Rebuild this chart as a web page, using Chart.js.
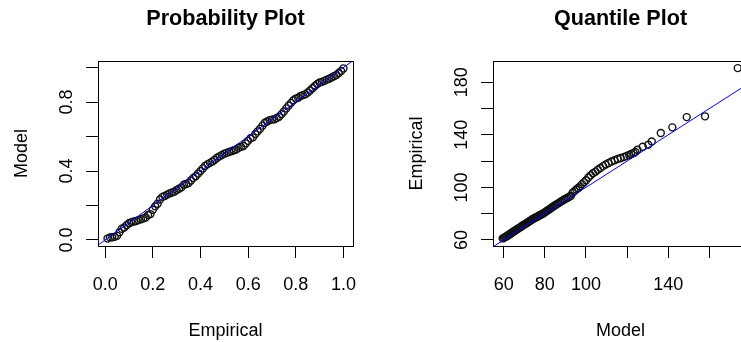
<!DOCTYPE html>
<html><head><meta charset="utf-8">
<script src="https://cdn.jsdelivr.net/npm/chart.js@4.4.1/dist/chart.umd.min.js"></script>
<style>
html,body{margin:0;padding:0;background:#fff;overflow:hidden;width:741px;height:342px;position:relative;}
canvas{position:absolute;top:0;}
#c1{left:0}
#c2{left:395px}
</style></head><body>
<canvas id="c1" width="370" height="342"></canvas>
<canvas id="c2" width="370" height="342"></canvas>
<script>
// ---- Probability plot data ----
const ppEmpirical = [0.01,0.02,0.03,0.04,0.05,0.06,0.07,0.08,0.09,0.10,
0.11,0.12,0.13,0.14,0.15,0.16,0.17,0.18,0.19,0.20,
0.21,0.22,0.23,0.24,0.25,0.26,0.27,0.28,0.29,0.30,
0.31,0.32,0.33,0.34,0.35,0.36,0.37,0.38,0.39,0.40,
0.41,0.42,0.43,0.44,0.45,0.46,0.47,0.48,0.49,0.50,
0.51,0.52,0.53,0.54,0.55,0.56,0.57,0.58,0.59,0.60,
0.61,0.62,0.63,0.64,0.65,0.66,0.67,0.68,0.69,0.70,
0.71,0.72,0.73,0.74,0.75,0.76,0.77,0.78,0.79,0.80,
0.81,0.82,0.83,0.84,0.85,0.86,0.87,0.88,0.89,0.90,
0.91,0.92,0.93,0.94,0.95,0.96,0.97,0.98,0.99,1.00];
const ppModel = [0.008,0.015,0.016,0.018,0.024,0.045,0.065,0.072,0.085,0.097,
0.103,0.107,0.110,0.115,0.120,0.125,0.130,0.145,0.150,0.175,
0.195,0.210,0.235,0.250,0.255,0.263,0.270,0.275,0.280,0.290,
0.297,0.305,0.320,0.325,0.330,0.345,0.360,0.370,0.385,0.400,
0.415,0.430,0.440,0.447,0.455,0.465,0.477,0.485,0.493,0.500,
0.505,0.510,0.515,0.520,0.525,0.535,0.540,0.545,0.560,0.575,
0.590,0.595,0.615,0.630,0.645,0.663,0.680,0.687,0.695,0.698,
0.700,0.707,0.715,0.730,0.745,0.763,0.780,0.795,0.810,0.820,
0.825,0.835,0.840,0.845,0.855,0.867,0.880,0.893,0.905,0.913,
0.917,0.923,0.930,0.935,0.942,0.950,0.957,0.968,0.980,0.995];
const ppTicks = [0, 0.2, 0.4, 0.6, 0.8, 1.0];
const ppXLabels = ['0.0','0.2','0.4','0.6','0.8','1.0'];
const ppYLabels = ['0.0','','0.4','','0.8',''];
const ppXLimits = [-0.030, 1.040];
const ppYLimits = [-0.035, 1.038];
const ppRefLine = [-0.035, 1.040];

// ---- Quantile plot data ----
const qqModel = [59.5,60.0,60.5,61.0,61.4,61.9,62.3,62.8,63.2,63.6,
64.1,64.5,64.9,65.4,65.8,66.2,66.7,67.1,67.5,68.0,
68.4,68.8,69.3,69.7,70.2,70.6,71.1,71.5,72.0,72.4,
72.9,73.4,73.8,74.3,74.8,75.3,75.8,76.3,76.8,77.3,
77.8,78.3,78.9,79.4,80.0,80.5,81.1,81.7,82.3,82.9,
83.5,84.1,84.8,85.4,86.1,86.8,87.5,88.2,88.9,89.6,
90.4,91.1,91.9,92.7,
93.5,94.4,95.3,96.2,97.1,98.1,99.1,100.1,101.2,102.3,
103.4,104.6,105.8,107.0,108.3,109.6,111.0,112.4,113.9,115.4,
116.9,118.5,119.8,121.0,122.0,123.2,124.0,
125.0,127.6,130.3,132.0,136.4,142.0,149.0,157.9,173.8];
const qqEmpirical = [61.2,61.6,62.0,62.4,62.9,63.3,63.8,64.2,64.7,65.1,
65.6,66.1,66.6,67.0,67.4,67.9,68.3,68.7,69.2,69.6,
70.1,70.6,71.0,71.5,71.9,72.3,72.8,73.2,73.7,74.2,
74.6,75.1,75.6,76.1,76.5,76.9,77.3,77.7,78.1,78.6,
79.0,79.4,79.9,80.4,81.0,81.6,82.2,82.8,83.5,84.1,
84.8,85.5,86.2,86.8,87.5,88.2,88.9,89.6,90.3,91.0,
91.6,92.2,92.9,93.6,
96.0,97.2,98.4,99.6,100.8,102.5,104.0,105.5,107.5,109.2,
110.8,112.0,113.4,114.8,116.2,117.4,118.6,119.7,120.7,121.6,
122.4,123.2,124.0,124.7,125.4,126.2,127.0,
128.7,131.0,132.5,135.0,141.4,145.7,153.5,154.1,190.8];
const qqXTicks = [60, 80, 100, 120, 140, 160];
const qqXLabels = ['60','80','100','','140',''];
const qqYTicks = [60, 80, 100, 120, 140, 160, 180];
const qqYLabels = ['60','','100','','140','','180'];
const qqXLimits = [54.8, 178.8];
const qqYLimits = [55.43, 196.2];
const qqRefLine = [54.8, 178.8];

const FONT = '"Liberation Sans", Arial, sans-serif';

const rText = {
  id: 'rText',
  afterDraw(chart, args, o) {
    const ctx = chart.ctx, a = chart.chartArea;
    ctx.save();
    ctx.strokeStyle = '#000'; ctx.lineWidth = 1;
    ctx.strokeRect(Math.round(a.left) + 0.5, Math.round(a.top) + 0.5,
                   Math.round(a.right - a.left), Math.round(a.bottom - a.top));
    ctx.fillStyle = '#000';
    ctx.textAlign = 'center'; ctx.textBaseline = 'alphabetic';
    const cx = (a.left + a.right) / 2, cy = (a.top + a.bottom) / 2;
    ctx.font = 'bold 21.6px ' + FONT;
    ctx.fillText(o.title, cx, a.top - 36);
    ctx.font = '18px ' + FONT;
    ctx.fillText(o.xTitle, cx, a.bottom + 90);
    ctx.save(); ctx.translate(a.left - 71, cy); ctx.rotate(-Math.PI / 2);
    ctx.fillText(o.yTitle, 0, 0); ctx.restore();
    const xs = chart.scales.x, ys = chart.scales.y;
    xs.ticks.forEach((t, i) => {
      const lab = o.xLabels[i]; if (!lab) return;
      ctx.fillText(lab, xs.getPixelForValue(t.value), a.bottom + 44);
    });
    ys.ticks.forEach((t, i) => {
      const lab = o.yLabels[i]; if (!lab) return;
      ctx.save(); ctx.translate(a.left - 26, ys.getPixelForValue(t.value));
      ctx.rotate(-Math.PI / 2); ctx.fillText(lab, 0, 0); ctx.restore();
    });
    ctx.restore();
  }
};

function makeChart(id, xs, ys, ref, xLim, yLim, xTicks, yTicks, labels) {
  const gridOpts = { drawOnChartArea: false, drawTicks: true, tickLength: 12, color: '#000', lineWidth: 1 };
  return new Chart(document.getElementById(id), {
    type: 'scatter',
    data: {
      datasets: [
        { data: ref.map(v => ({ x: v, y: v })), showLine: true, borderColor: '#0000ff',
          borderWidth: 1, pointRadius: 0, fill: false },
        { data: xs.map((v, i) => ({ x: v, y: ys[i] })), pointRadius: 3.5, borderWidth: 1.4,
          borderColor: '#111', backgroundColor: 'rgba(0,0,0,0)', pointStyle: 'circle' }
      ]
    },
    options: {
      responsive: false, animation: false, devicePixelRatio: 1, events: [],
      layout: { padding: { top: 61, right: 17, left: 0, bottom: 0 } },
      plugins: { legend: { display: false }, tooltip: { enabled: false }, title: { display: false }, rText: labels },
      scales: {
        x: { type: 'linear', position: 'bottom', min: xLim[0], max: xLim[1],
             afterBuildTicks: s => { s.ticks = xTicks.map(v => ({ value: v })); },
             afterFit: s => { s.height = 96; },
             ticks: { display: false }, grid: gridOpts, border: { display: false } },
        y: { type: 'linear', position: 'left', min: yLim[0], max: yLim[1],
             afterBuildTicks: s => { s.ticks = yTicks.map(v => ({ value: v })); },
             afterFit: s => { s.width = 98; },
             ticks: { display: false }, grid: gridOpts, border: { display: false } }
      }
    },
    plugins: [rText]
  });
}

makeChart('c1', ppEmpirical, ppModel, ppRefLine, ppXLimits, ppYLimits, ppTicks, ppTicks,
  { title: 'Probability Plot', xTitle: 'Empirical', yTitle: 'Model', xLabels: ppXLabels, yLabels: ppYLabels });
makeChart('c2', qqModel, qqEmpirical, qqRefLine, qqXLimits, qqYLimits, qqXTicks, qqYTicks,
  { title: 'Quantile Plot', xTitle: 'Model', yTitle: 'Empirical', xLabels: qqXLabels, yLabels: qqYLabels });
</script>
</body></html>
